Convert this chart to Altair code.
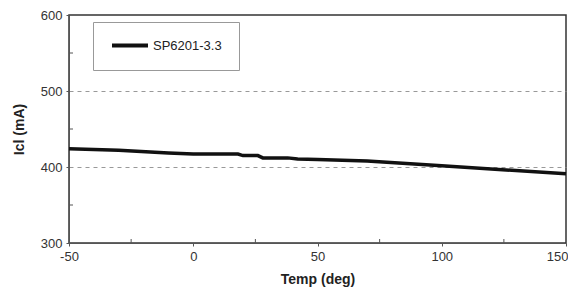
import altair as alt
import pandas as pd

# Data
temps = [-50, -30, -10, 0, 18, 20, 26, 28, 38, 42, 50, 70, 100, 150]
icl = [424, 422, 418.5, 417, 417, 415, 415, 412, 412, 410.5, 410, 408, 401.5, 391]
series_name = "SP6201-3.3"

x_major = [-50, 0, 50, 100, 150]
y_major = [300, 400, 500, 600]
x_minor = [-25, 25, 75, 125]
y_minor = [350, 450, 550]

df = pd.DataFrame({"temp": temps, "icl": icl, "series": [series_name] * len(temps)})
df_xminor = pd.DataFrame({"temp": x_minor})
df_yminor = pd.DataFrame({"icl": y_minor})

FONT = "Liberation Sans"
W, H = 497, 228

xscale = alt.Scale(domain=[-50, 150], nice=False, zero=False)
yscale = alt.Scale(domain=[300, 600], nice=False, zero=False)

xaxis = alt.Axis(values=x_major, title="Temp (deg)", grid=False, labelFlush=False,
                 labelExpr="'' + datum.value",
                 labelAlign={"condition": {"test": "datum.value == 150", "value": "right"},
                             "value": "center"},
                 labelOffset={"condition": {"test": "datum.value == 150", "value": 2},
                              "value": 0},
                 tickSize=3, labelPadding=4, titlePadding=9,
                 domainColor="#555", tickColor="#555")
yaxis = alt.Axis(values=y_major, title="Icl (mA)", grid=True,
                 gridDash=[4, 4], gridColor="#999", gridWidth=1,
                 gridOpacity={"condition": {"test": "datum.value == 300 || datum.value == 600",
                                            "value": 0}, "value": 1},
                 tickSize=3, labelPadding=4, titlePadding=14,
                 domainColor="#555", tickColor="#555")

line = alt.Chart(df).mark_line(strokeWidth=3.5, interpolate="linear").encode(
    x=alt.X("temp:Q", scale=xscale, axis=xaxis),
    y=alt.Y("icl:Q", scale=yscale, axis=yaxis),
    color=alt.Color("series:N", scale=alt.Scale(range=["#111111"]),
                    legend=alt.Legend(title=None, orient="none", legendX=24, legendY=7,
                                      symbolType="stroke", symbolSize=1296,
                                      symbolStrokeWidth=4, labelFontSize=13,
                                      labelFont=FONT, labelColor="#222",
                                      strokeColor="#999", fillColor="white",
                                      padding=17, labelOffset=3, clipHeight=13)),
)

xminor = alt.Chart(df_xminor).mark_rule(color="#555", strokeWidth=1).encode(
    x=alt.X("temp:Q", scale=xscale, axis=xaxis),
    y=alt.value(H), y2=alt.value(H - 4),
)
yminor = alt.Chart(df_yminor).mark_rule(color="#555", strokeWidth=1).encode(
    y=alt.Y("icl:Q", scale=yscale, axis=yaxis),
    x=alt.value(0), x2=alt.value(4),
)

chart = alt.layer(line, xminor, yminor).properties(
    width=W, height=H,
    autosize=alt.AutoSizeParams(type="none"),
    padding={"left": 61, "top": 7, "right": 2, "bottom": 44},
).configure_view(
    stroke="#333", strokeWidth=1.5
).configure_axis(
    labelFont=FONT, titleFont=FONT, labelFontSize=13, titleFontSize=14,
    labelColor="#333", titleColor="#222", titleFontWeight="bold",
)

chart.save("out.html", embed_options={"renderer": "svg", "actions": False})
